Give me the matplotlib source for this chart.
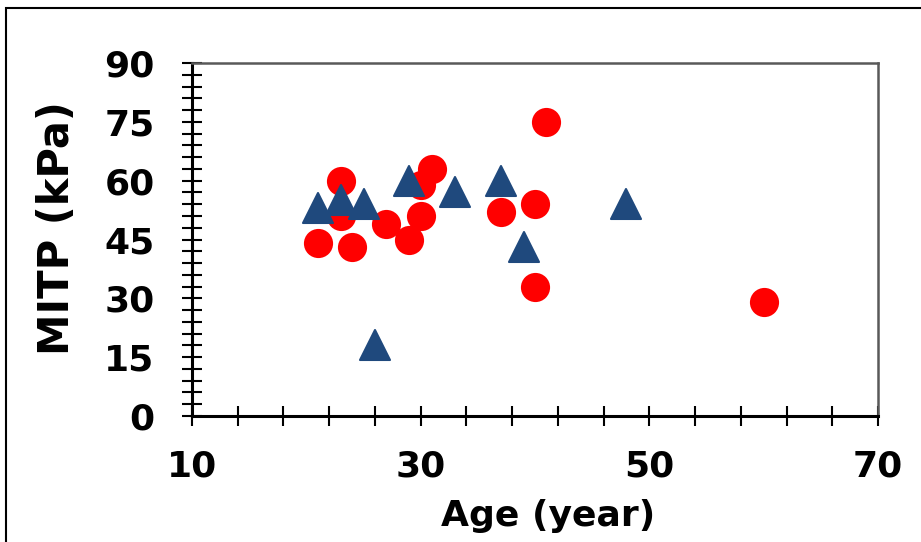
import matplotlib
matplotlib.use("Agg")
import matplotlib.pyplot as plt
from matplotlib.ticker import MultipleLocator
from matplotlib.patches import Rectangle
from matplotlib.markers import MarkerStyle

plt.rcParams['font.family'] = ['DejaVu Sans']
plt.rcParams['font.weight'] = 'bold'

# red circles
age_red = [21, 23, 23, 24, 27, 29, 30, 30, 31, 37, 40, 40, 41, 60]
mitp_red = [44, 60, 51, 43, 49, 45, 51, 59, 63, 52, 54, 33, 75, 29]

# blue triangles
age_blue = [21, 23, 25, 26, 29, 33, 37, 39, 48]
mitp_blue = [53, 55, 54, 18, 60, 57, 60, 43, 54]

fig = plt.figure(figsize=(9.21, 5.42), dpi=100)
ax = fig.add_axes([192/921, 1-416/542, (878-192)/921, (416-63)/542])

ax.plot(age_red, mitp_red, 'o', color='#FF0000', markersize=21, markeredgewidth=0, zorder=3, clip_on=False)
ax.plot(age_blue, mitp_blue, linestyle='none', marker=MarkerStyle('^', joinstyle='round'),
        color='#1F497D', markersize=22, markeredgewidth=1.5,
        markeredgecolor='#1F497D', zorder=4, clip_on=False)

ax.set_xlim(10, 70)
ax.set_ylim(0, 90)
ax.xaxis.set_major_locator(MultipleLocator(20, offset=10))
ax.xaxis.set_minor_locator(MultipleLocator(4, offset=2))
ax.yaxis.set_major_locator(MultipleLocator(15))
ax.yaxis.set_minor_locator(MultipleLocator(3))

ax.tick_params(axis='both', which='both', direction='inout', length=14, width=1.5, color='black')
ax.tick_params(axis='y', which='major', labelsize=26, pad=20)
ax.tick_params(axis='x', which='major', labelsize=26, pad=17)
for lab in ax.get_xticklabels() + ax.get_yticklabels():
    lab.set_fontweight('bold')

for s in ['left', 'bottom']:
    ax.spines[s].set_linewidth(2.2)
    ax.spines[s].set_color('black')
for s in ['top', 'right']:
    ax.spines[s].set_linewidth(1.8)
    ax.spines[s].set_color('#595959')

ax.set_xlabel('Age (year)', fontsize=26, fontweight='bold')
ax.set_ylabel('MITP (kPa)', fontsize=30, fontweight='bold')
ax.xaxis.set_label_coords((548-192)/686, -0.234)
ax.yaxis.set_label_coords(-0.166, (416-228)/353)

fig.patches.append(Rectangle((6/921, -0.1), 1.2, 1-8/542+0.1, transform=fig.transFigure,
                             fill=False, edgecolor='black', linewidth=1.5))

fig.savefig('out.png', dpi=100)
